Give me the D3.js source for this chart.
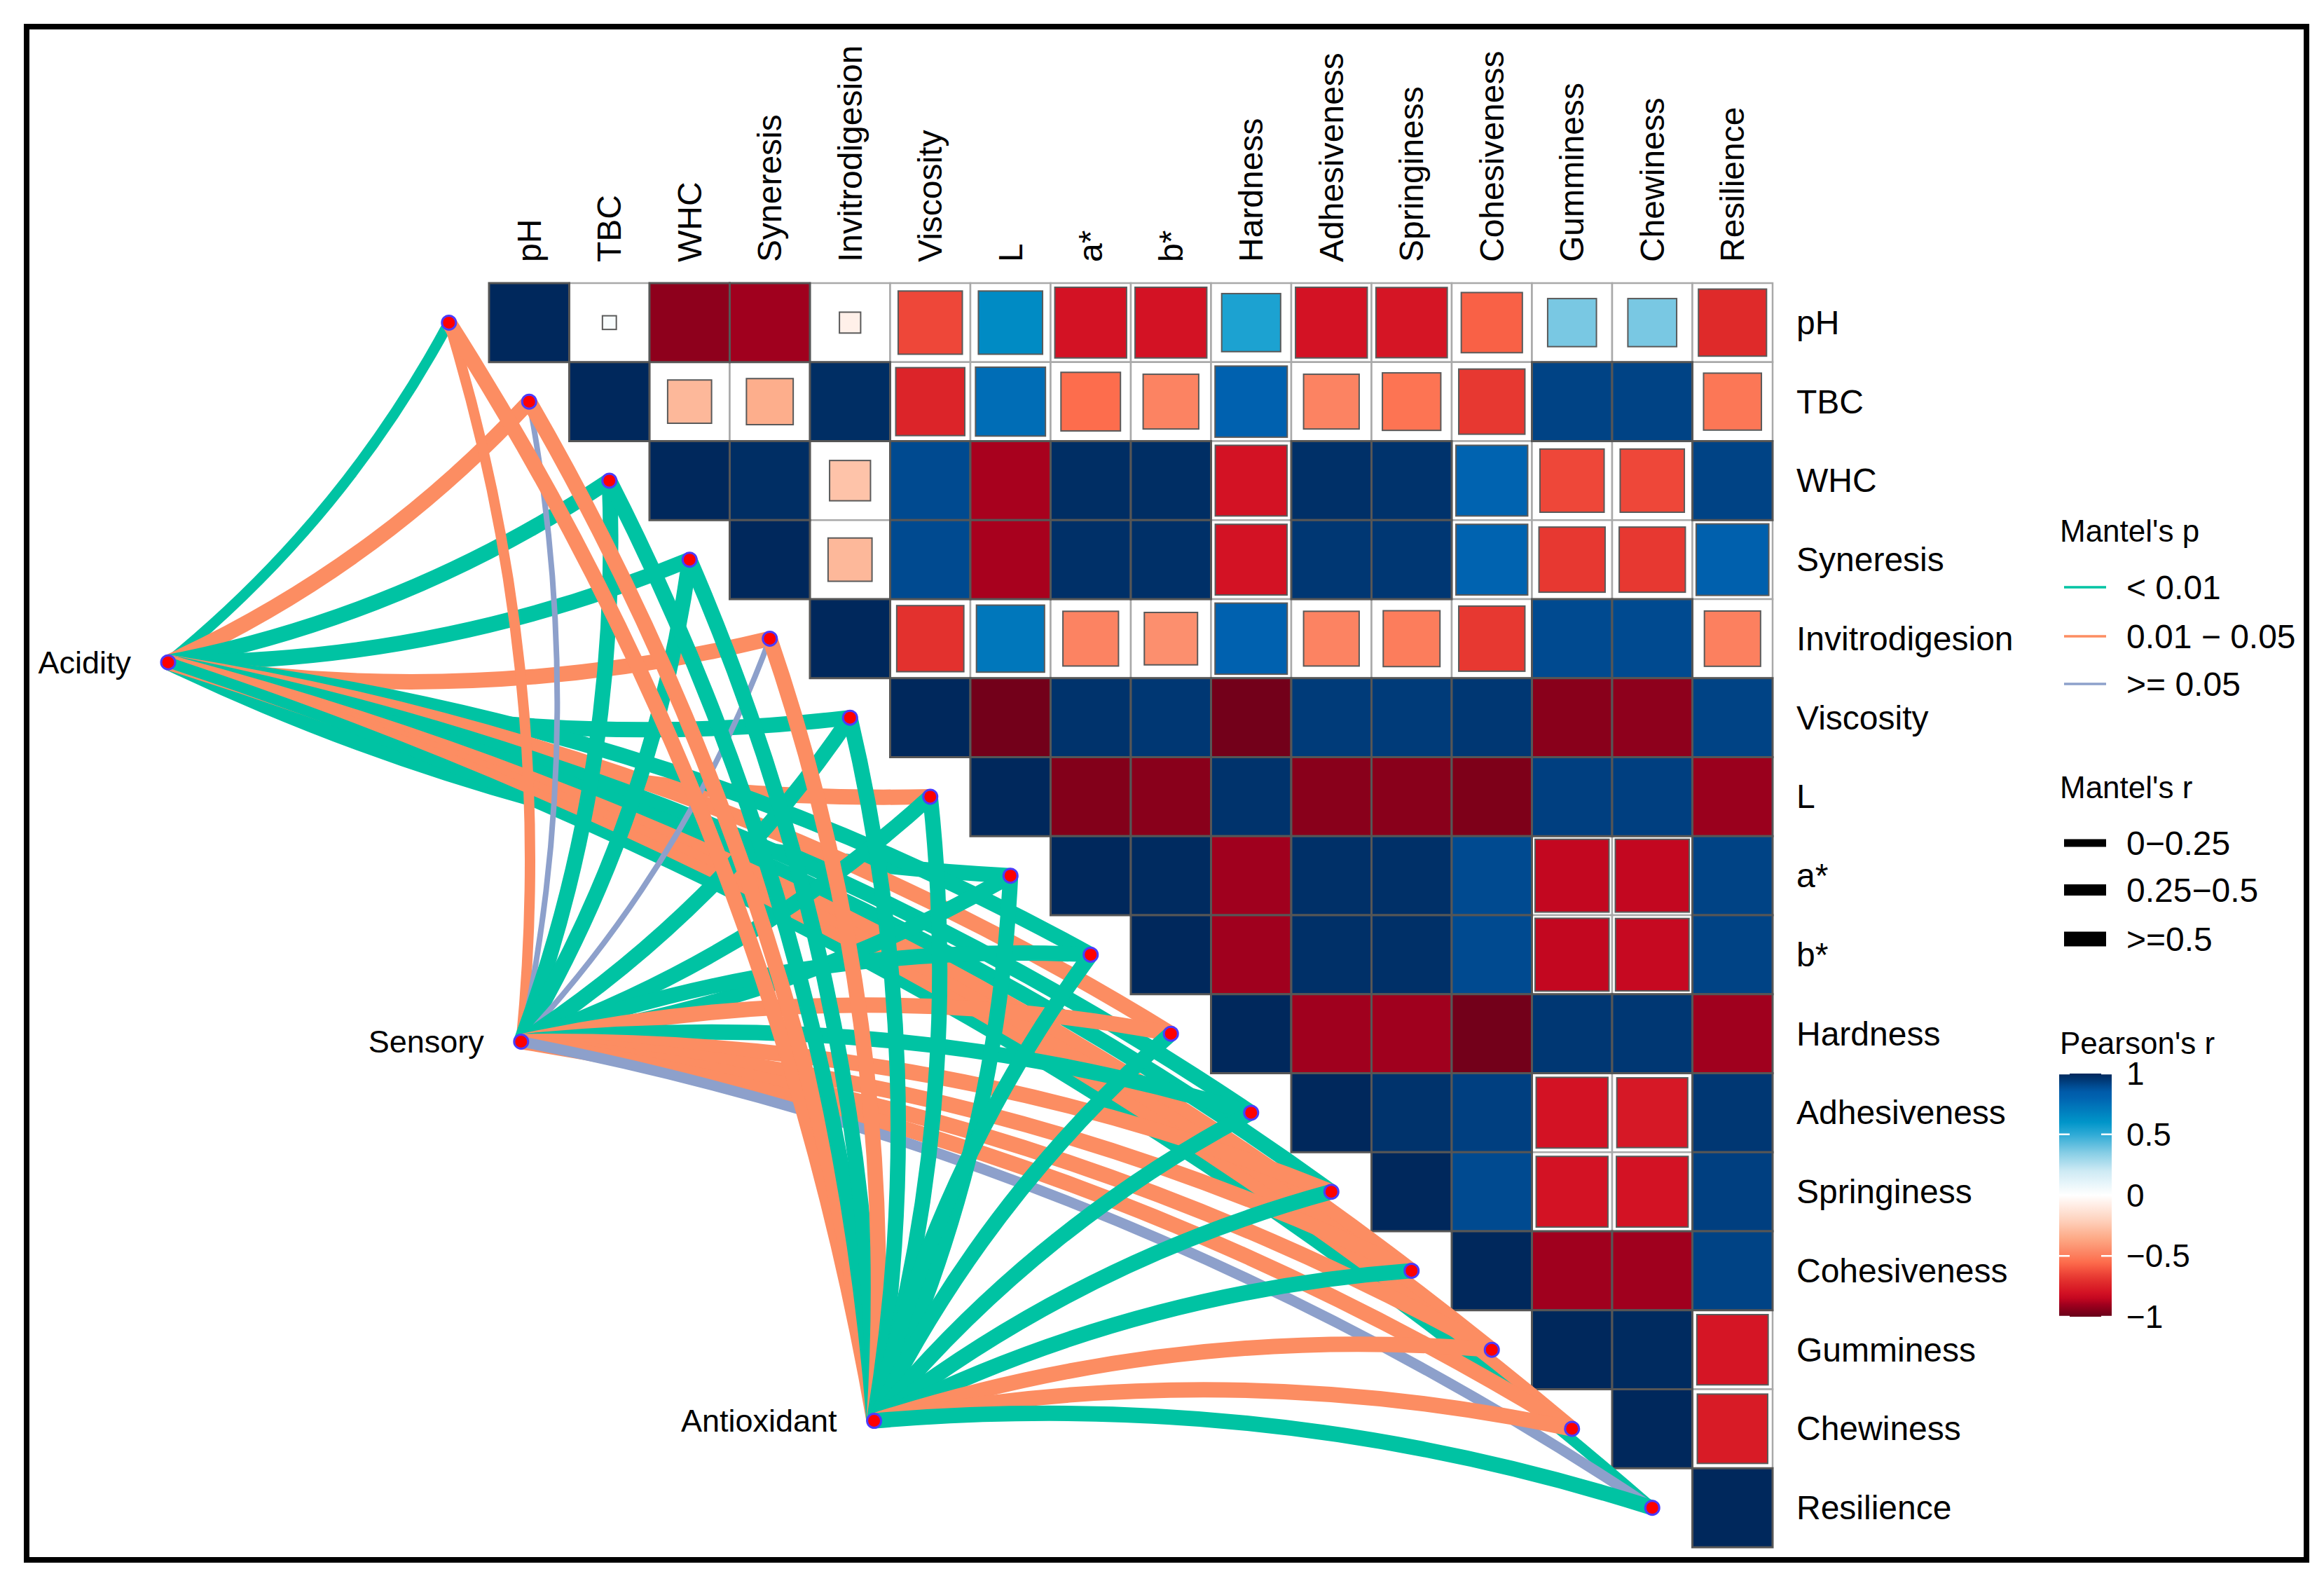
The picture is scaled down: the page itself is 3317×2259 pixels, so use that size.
<!DOCTYPE html>
<html><head><meta charset="utf-8">
<script src="https://cdn.jsdelivr.net/npm/d3@7"></script>
<style>
html,body{margin:0;padding:0;background:#fff;}
svg{display:block;}
text{font-family:"Liberation Sans",Arial,Helvetica,sans-serif;fill:#000;}
</style>
</head><body>
<svg id="c" width="3317" height="2259"></svg>
<script>
// ---------------- data ----------------
const variables = ["pH","TBC","WHC","Syneresis","Invitrodigesion","Viscosity","L","a*","b*",
  "Hardness","Adhesiveness","Springiness","Cohesiveness","Gumminess","Chewiness","Resilience"];

// Pearson's r, upper triangle (row i, columns i..15)
const pearsonR = [
 [1, 0.03, -0.93, -0.9, -0.07, -0.64, 0.64, -0.8, -0.8, 0.54, -0.8, -0.79, -0.58, 0.37, 0.37, -0.72],
 [1, -0.3, -0.34, 0.98, -0.74, 0.76, -0.55, -0.48, 0.81, -0.48, -0.53, -0.68, 0.92, 0.92, -0.52],
 [1, 0.98, -0.26, 0.9, -0.89, 0.98, 0.98, -0.8, 0.97, 0.96, 0.8, -0.64, -0.64, 0.92],
 [1, -0.3, 0.9, -0.89, 0.97, 0.97, -0.8, 0.95, 0.95, 0.8, -0.68, -0.68, 0.82],
 [1, -0.7, 0.72, -0.48, -0.44, 0.81, -0.48, -0.5, -0.68, 0.9, 0.9, -0.49],
 [1, -0.98, 0.96, 0.95, -0.98, 0.94, 0.94, 0.95, -0.94, -0.93, 0.92],
 [1, -0.95, -0.94, 0.96, -0.94, -0.94, -0.96, 0.93, 0.93, -0.91],
 [1, 0.99, -0.9, 0.97, 0.97, 0.9, -0.85, -0.85, 0.92],
 [1, -0.9, 0.97, 0.97, 0.9, -0.85, -0.84, 0.92],
 [1, -0.9, -0.9, -0.98, 0.95, 0.95, -0.9],
 [1, 0.96, 0.93, -0.8, -0.78, 0.95],
 [1, 0.9, -0.8, -0.8, 0.93],
 [1, -0.9, -0.9, 0.92],
 [1, 0.99, -0.79],
 [1, -0.77],
 [1]
];

const envNames = ["Acidity","Sensory","Antioxidant"];
// Mantel test (estimated) p and r per variable
const pAcidity     = [0.004,0.03,0.001,0.001,0.02,0.002,0.03,0.001,0.001,0.02,0.001,0.001,0.03,0.02,0.03,0.005];
const rAcidity     = [0.40,0.55,0.62,0.60,0.52,0.60,0.52,0.60,0.60,0.55,0.60,0.60,0.55,0.55,0.52,0.40];
const pSensory     = [0.02,0.12,0.001,0.001,0.09,0.001,0.002,0.001,0.001,0.03,0.001,0.02,0.03,0.02,0.03,0.07];
const rSensory     = [0.40,0.15,0.60,0.60,0.14,0.62,0.60,0.60,0.60,0.55,0.60,0.55,0.55,0.55,0.55,0.35];
const pAntioxidant = [0.03,0.03,0.001,0.001,0.03,0.001,0.001,0.001,0.001,0.002,0.001,0.001,0.001,0.02,0.03,0.003];
const rAntioxidant = [0.60,0.60,0.65,0.65,0.55,0.65,0.62,0.62,0.60,0.60,0.60,0.62,0.62,0.55,0.55,0.58];

const pLabels = ["< 0.01","0.01 \u2212 0.05",">= 0.05"];
const rLabels = ["0\u22120.25","0.25\u22120.5",">=0.5"];
const cbTicks = [1,0.5,0,-0.5,-1];
const cbTickLabels = ["1","0.5","0","\u22120.5","\u22121"];

// ---------------- layout ----------------
const svg = d3.select("#c");
const hm = {x0:698, x1:2530, y0:404, y1:2208};
const x = d3.scaleBand().domain(variables).range([hm.x0, hm.x1]);
const y = d3.scaleBand().domain(variables).range([hm.y0, hm.y1]);
const bw = x.bandwidth(), bh = y.bandwidth();
const xc = d3.scaleLinear().domain([0,16]).range([hm.x0, hm.x1]);
const yc = d3.scaleLinear().domain([0,16]).range([hm.y0, hm.y1]);

const color = d3.scaleLinear()
  .domain([-1,-0.96,-0.93,-0.9,-0.86,-0.8,-0.72,-0.64,-0.56,-0.5,-0.35,-0.2,0,0.2,0.35,0.5,0.6,0.72,0.8,0.87,0.9,0.93,0.96,1])
  .range(["#67001a","#7e0019","#8e001c","#a0001e","#c0051f","#d31224","#df2a2a","#ee4739","#fd6a4a","#fc7d5c","#fdab88","#fed3bf","#ffffff","#cdeaf4","#85cde5","#2eaad6","#0095c9","#0077bb","#0063b0","#0058a6","#004a90","#003f80","#00336c","#00285c"])
  .clamp(true);

// ---------------- heatmap ----------------
const cells = [];
pearsonR.forEach((row, i) => row.forEach((r, k) => cells.push({i, j: i + k, r})));
const fullT = 0.88;
const gCells = svg.append("g");
const partial = cells.filter(d => Math.abs(d.r) < fullT);
const full = cells.filter(d => Math.abs(d.r) >= fullT);

gCells.selectAll("rect.bg").data(partial).join("rect")
  .attr("x", d => x(variables[d.j])).attr("y", d => y(variables[d.i]))
  .attr("width", bw).attr("height", bh)
  .attr("fill", "#fff").attr("stroke", "#a9a9a9").attr("stroke-width", 2.5);
gCells.selectAll("rect.sq").data(partial).join("rect")
  .attr("x", d => x(variables[d.j]) + bw * (1 - Math.sqrt(Math.abs(d.r))) / 2)
  .attr("y", d => y(variables[d.i]) + bh * (1 - Math.sqrt(Math.abs(d.r))) / 2)
  .attr("width", d => bw * Math.sqrt(Math.abs(d.r)))
  .attr("height", d => bh * Math.sqrt(Math.abs(d.r)))
  .attr("fill", d => color(d.r)).attr("stroke", "#5a5a5a").attr("stroke-width", 2);
gCells.selectAll("rect.full").data(full).join("rect")
  .attr("x", d => x(variables[d.j])).attr("y", d => y(variables[d.i]))
  .attr("width", bw).attr("height", bh)
  .attr("fill", d => color(d.r)).attr("stroke", "#565656").attr("stroke-width", 3);

// column labels
svg.append("g").selectAll("text").data(variables).join("text")
  .attr("transform", v => `translate(${x(v) + bw/2},${hm.y0 - 30}) rotate(-90)`)
  .attr("text-anchor", "start").attr("dominant-baseline", "central")
  .attr("font-size", 48).text(v => v);
// row labels
svg.append("g").selectAll("text").data(variables).join("text")
  .attr("x", hm.x1 + 34).attr("y", v => y(v) + bh/2)
  .attr("dominant-baseline", "central").attr("font-size", 48).text(v => v);

// ---------------- mantel links ----------------
const pColor = d3.scaleThreshold().domain([0.01, 0.05]).range(["#00C3A3","#FC8D62","#8DA0CB"]);
const rWidth = d3.scaleThreshold().domain([0.25, 0.5]).range([8, 15, 22]);
const pArr = [pAcidity, pSensory, pAntioxidant];
const rArr = [rAcidity, rSensory, rAntioxidant];
const envPos = envNames.map((e, k) => ({name: e, x: xc(-4 + 4.4 * k), y: yc(4.8 + 4.8 * k)}));
const varPos = variables.map(v => ({name: v, x: x(v) - bw/2, y: y(v) + bh/2}));

const links = [];
envNames.forEach((e, k) => variables.forEach((v, j) => links.push({k, j, p: pArr[k][j], r: rArr[k][j]})));

function curvePath(a, b, sign) {
  const dx = b.x - a.x, dy = b.y - a.y, c = 0.1 * sign;
  const cx = (a.x + b.x) / 2 - c * dy, cy = (a.y + b.y) / 2 + c * dx;
  return `M${a.x},${a.y}Q${cx},${cy} ${b.x},${b.y}`;
}
svg.append("g").selectAll("path").data(links).join("path")
  .attr("d", d => curvePath(envPos[d.k], varPos[d.j], d.j <= 7 ? 1 : -1))
  .attr("fill", "none").attr("stroke", d => pColor(d.p))
  .attr("stroke-width", d => rWidth(d.r)).attr("stroke-linecap", "butt");

// nodes
const gN = svg.append("g");
gN.selectAll("circle.v").data(varPos.concat(envPos)).join("circle")
  .attr("cx", d => d.x).attr("cy", d => d.y).attr("r", 10)
  .attr("fill", "#ff0000").attr("stroke", "#4b3bff").attr("stroke-width", 3);
svg.append("g").selectAll("text").data(envPos).join("text")
  .attr("x", d => d.x - 53).attr("y", d => d.y)
  .attr("text-anchor", "end").attr("dominant-baseline", "central")
  .attr("font-size", 45).text(d => d.name);

// ---------------- legends ----------------
const lg = svg.append("g");
const lx = 2940;
lg.append("text").attr("x", lx).attr("y", 757).attr("dominant-baseline", "central").attr("font-size", 44).text("Mantel's p");
const pY = [838, 908, 976];
lg.selectAll("line.p").data(pLabels).join("line")
  .attr("x1", 2946).attr("x2", 3006).attr("y1", (d, i) => pY[i]).attr("y2", (d, i) => pY[i])
  .attr("stroke", (d, i) => pColor.range()[i]).attr("stroke-width", 3.5);
lg.selectAll("text.p").data(pLabels).join("text")
  .attr("x", 3035).attr("y", (d, i) => pY[i]).attr("dominant-baseline", "central")
  .attr("font-size", 48).text(d => d);

lg.append("text").attr("x", lx).attr("y", 1123).attr("dominant-baseline", "central").attr("font-size", 44).text("Mantel's r");
const rY = [1203, 1270, 1340];
const rKey = [11, 16, 21];
lg.selectAll("line.r").data(rLabels).join("line")
  .attr("x1", 2946).attr("x2", 3006).attr("y1", (d, i) => rY[i]).attr("y2", (d, i) => rY[i])
  .attr("stroke", "#000").attr("stroke-width", (d, i) => rKey[i]);
lg.selectAll("text.r").data(rLabels).join("text")
  .attr("x", 3035).attr("y", (d, i) => rY[i]).attr("dominant-baseline", "central")
  .attr("font-size", 48).text(d => d);

lg.append("text").attr("x", lx).attr("y", 1488).attr("dominant-baseline", "central").attr("font-size", 44).text("Pearson's r");
const cb = d3.scaleLinear().domain([1, -1]).range([1532, 1879]);
const defs = svg.append("defs");
const grad = defs.append("linearGradient").attr("id", "cbg").attr("x1", 0).attr("y1", 0).attr("x2", 0).attr("y2", 1);
d3.range(0, 41).forEach(s => {
  const v = 1 - s / 20;
  grad.append("stop").attr("offset", (s / 40)).attr("stop-color", color(v));
});
const cbx0 = 2939, cbx1 = 3014;
lg.append("rect").attr("x", cbx0).attr("y", cb(1)).attr("width", cbx1 - cbx0).attr("height", cb(-1) - cb(1)).attr("fill", "url(#cbg)");
cbTicks.forEach(t => {
  lg.append("line").attr("x1", cbx0).attr("x2", cbx0 + 15).attr("y1", cb(t)).attr("y2", cb(t)).attr("stroke", "#fff").attr("stroke-width", 2.5);
  lg.append("line").attr("x1", cbx1 - 15).attr("x2", cbx1).attr("y1", cb(t)).attr("y2", cb(t)).attr("stroke", "#fff").attr("stroke-width", 2.5);
});
lg.selectAll("text.cb").data(cbTicks).join("text")
  .attr("x", 3035).attr("y", d => cb(d)).attr("dominant-baseline", "central")
  .attr("font-size", 46).text((d, i) => cbTickLabels[i]);

// outer frame
svg.append("rect").attr("x", 38).attr("y", 38).attr("width", 3254).attr("height", 2188)
  .attr("fill", "none").attr("stroke", "#000").attr("stroke-width", 8);
</script>
</body></html>
